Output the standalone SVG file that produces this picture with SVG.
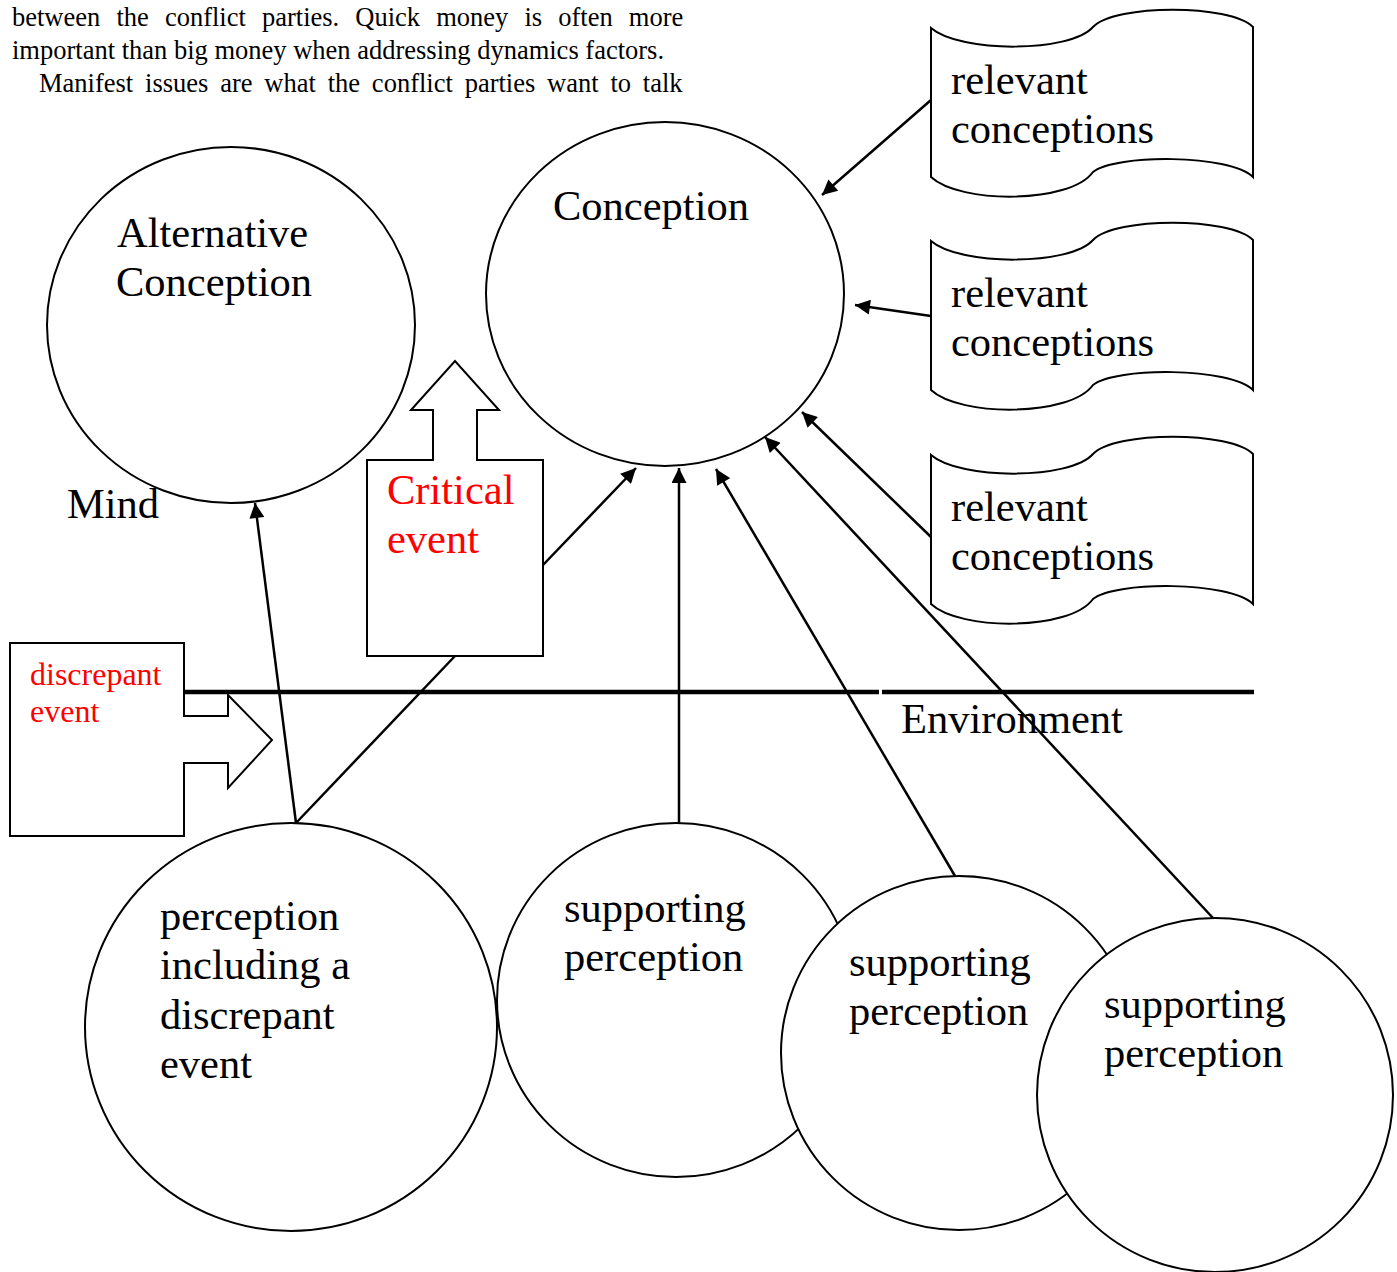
<svg xmlns="http://www.w3.org/2000/svg" width="1397" height="1272" viewBox="0 0 1397 1272">
<defs>
<style>
.t{font-family:"Liberation Serif","Times New Roman",serif;fill:#000}
.big{font-size:42.5px}
.red{fill:#ff0000}
.node{fill:#fff;stroke:#000;stroke-width:2}
.conn{stroke:#000;stroke-width:2.5;fill:none}
</style>
<marker id="ah" viewBox="0 0 10 10" refX="10" refY="5" markerWidth="7" markerHeight="6" markerUnits="strokeWidth" orient="auto">
<path d="M0,0 L10,5 L0,10 z" fill="#000"/>
</marker>
<path id="wave" d="M931,28 C960,53 1070,53 1093,27 C1115,4 1230,4 1253,27 L1253,177 C1230,154 1115,154 1093,172 C1070,204 960,204 931,177 Z"/>
</defs>
<rect width="1397" height="1272" fill="#fff"/>

<g id="body-text" class="t" font-size="26.5">
<text x="12" y="26" word-spacing="9.5">between the conflict parties. Quick money is often more</text>
<text x="12" y="59">important than big money when addressing dynamics factors.</text>
<text x="39" y="92" word-spacing="5.2">Manifest issues are what the conflict parties want to talk</text>
</g>

<g id="boundary">
<line x1="184" y1="692" x2="879" y2="692" stroke="#000" stroke-width="4.5"/>
<line x1="882" y1="692" x2="1254" y2="692" stroke="#000" stroke-width="4.5"/>
<text class="t big" x="67" y="518">Mind</text>
<text class="t big" x="901" y="733">Environment</text>
</g>

<g id="alt-conception">
<ellipse class="node" cx="231" cy="325" rx="184" ry="178"/>
<text class="t big" x="117" y="247">Alternative</text>
<text class="t big" x="116" y="296">Conception</text>
</g>

<g id="conception">
<ellipse class="node" cx="665" cy="294" rx="179" ry="172"/>
<text class="t big" x="553" y="220">Conception</text>
</g>

<g id="relevant1">
<use href="#wave" class="node"/>
<text class="t big" x="951" y="94">relevant</text>
<text class="t big" x="951" y="143">conceptions</text>
</g>
<g id="relevant2" transform="translate(0,213)">
<use href="#wave" class="node"/>
<text class="t big" x="951" y="94">relevant</text>
<text class="t big" x="951" y="143">conceptions</text>
</g>
<g id="relevant3" transform="translate(0,427)">
<use href="#wave" class="node"/>
<text class="t big" x="951" y="94">relevant</text>
<text class="t big" x="951" y="143">conceptions</text>
</g>

<g id="critical-event">
<path class="node" d="M367,460 L433,460 L433,410 L411,410 L455,361 L499,410 L477,410 L477,460 L543,460 L543,656 L367,656 Z"/>
<text class="t big red" x="387" y="504">Critical</text>
<text class="t big red" x="387" y="553">event</text>
</g>

<g id="discrepant-event">
<path class="node" d="M10,643 L184,643 L184,716 L228,716 L228,695 L272,740 L228,788 L228,763 L184,763 L184,836 L10,836 Z"/>
<text class="t red" font-size="32" x="30" y="685">discrepant</text>
<text class="t red" font-size="32" x="30" y="722">event</text>
</g>

<g id="perception-discrepant">
<ellipse class="node" cx="291" cy="1027" rx="206" ry="204"/>
<text class="t big" x="160" y="930">perception</text>
<text class="t big" x="160" y="979">including a</text>
<text class="t big" x="160" y="1029">discrepant</text>
<text class="t big" x="160" y="1078">event</text>
</g>

<g id="supporting1">
<ellipse class="node" cx="676" cy="1000" rx="179" ry="177"/>
<text class="t big" x="564" y="922">supporting</text>
<text class="t big" x="564" y="971">perception</text>
</g>

<g id="supporting2">
<ellipse class="node" cx="959" cy="1053" rx="178" ry="177"/>
<text class="t big" x="849" y="976">supporting</text>
<text class="t big" x="849" y="1025">perception</text>
</g>

<g id="supporting3">
<ellipse class="node" cx="1215" cy="1095" rx="178" ry="177"/>
<text class="t big" x="1104" y="1018">supporting</text>
<text class="t big" x="1104" y="1067">perception</text>
</g>

<g id="connectors">
<line class="conn" x1="931" y1="100" x2="822" y2="195" marker-end="url(#ah)"/>
<line class="conn" x1="931" y1="316" x2="855" y2="305" marker-end="url(#ah)"/>
<line class="conn" x1="931" y1="537" x2="802" y2="412" marker-end="url(#ah)"/>
<line class="conn" x1="543" y1="565" x2="636" y2="468" marker-end="url(#ah)"/>
<line class="conn" x1="296" y1="823" x2="455" y2="656"/>
<line class="conn" x1="296" y1="823" x2="255" y2="503" marker-end="url(#ah)"/>
<line class="conn" x1="679" y1="823" x2="679" y2="468" marker-end="url(#ah)"/>
<line class="conn" x1="955" y1="876" x2="716" y2="469" marker-end="url(#ah)"/>
<line class="conn" x1="1213" y1="918" x2="765" y2="437" marker-end="url(#ah)"/>
</g>
</svg>
